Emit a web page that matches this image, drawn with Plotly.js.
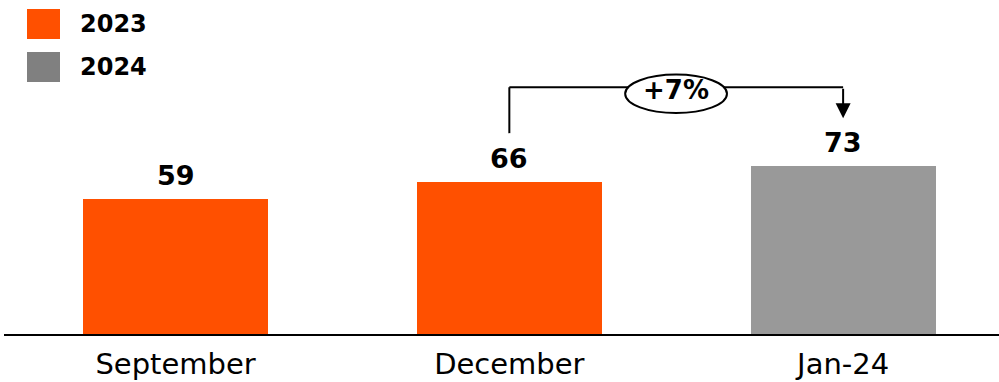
<!DOCTYPE html>
<html>
<head>
<meta charset="utf-8">
<script src="https://cdn.plot.ly/plotly-3.0.1.min.js"></script>
<style>
  html, body { margin: 0; padding: 0; background: #fff; }
  #chart { width: 999px; height: 382px; }
</style>
</head>
<body>
<div id="chart"></div>
<script>
// Monthly values, one bar per period
const categories = ['September', 'December', 'Jan-24'];
const values = [59, 66, 73];
const barColors = ['#FF5000', '#FF5000', '#999999'];

// Legend entries (drawn manually as swatches + labels)
const legendLabels = ['2023', '2024'];
const legendColors = ['#FF5000', '#808080'];

// Change callout between December and Jan-24
const changeLabel = '+7%';

const FONT = 'DejaVu Sans, sans-serif';

const trace = {
  type: 'bar',
  x: [0, 1, 2],
  y: values,
  width: 0.554,
  marker: { color: barColors, line: { width: 0 } },
  hoverinfo: 'skip',
  showlegend: false
};

const annotations = values.map((v, i) => ({
  x: i, y: v, xref: 'x', yref: 'y',
  text: '<b>' + v + '</b>',
  showarrow: false,
  yanchor: 'bottom', yshift: 6,
  font: { family: FONT, size: 27, color: '#000' }
}));

// legend labels
legendLabels.forEach((t, i) => {
  annotations.push({
    xref: 'paper', yref: 'paper', x: 74 / 995, y: 1 - (24 + i * 43) / 334,
    xanchor: 'left', yanchor: 'middle', showarrow: false,
    text: '<b>' + t + '</b>',
    font: { family: FONT, size: 24, color: '#000' }
  });
});

// bracket geometry (data coords)
const yBracket = 107.5;
const yStart = values[1] + 21.5;
const yArrowTip = values[2] + 21;

// arrow down onto the Jan-24 label
annotations.push({
  x: 2, y: yArrowTip, ax: 2, ay: yBracket, xref: 'x', yref: 'y', axref: 'x', ayref: 'y',
  text: '', showarrow: true, arrowhead: 2, arrowsize: 1.5, arrowwidth: 2, arrowcolor: '#000'
});

// change label inside the ellipse
annotations.push({
  x: 1.5, y: yBracket - 1, xref: 'x', yref: 'y',
  text: '<b>' + changeLabel + '</b>', showarrow: false,
  font: { family: FONT, size: 26, color: '#000' }
});

const shapes = [
  // left leg and horizontal run of the bracket
  { type: 'line', xref: 'x', yref: 'y', x0: 1, x1: 1, y0: yStart, y1: yBracket, line: { color: '#000', width: 2 } },
  { type: 'line', xref: 'x', yref: 'y', x0: 1, x1: 2, y0: yBracket, y1: yBracket, line: { color: '#000', width: 2 } },
  // ellipse around the change label
  { type: 'circle', xref: 'x', yref: 'y', x0: 1.347, x1: 1.652, y0: yBracket - 11.2, y1: yBracket + 5.5,
    line: { color: '#000', width: 2 }, fillcolor: '#fff' }
];

// legend swatches
legendColors.forEach((c, i) => {
  shapes.push({
    type: 'rect', xref: 'paper', yref: 'paper',
    x0: 23 / 995, x1: 56 / 995,
    y0: 1 - (39 + i * 43) / 334, y1: 1 - (9 + i * 43) / 334,
    fillcolor: c, line: { width: 0 }
  });
});

const layout = {
  width: 999, height: 382,
  margin: { l: 4, r: 0, t: 0, b: 48 },
  paper_bgcolor: '#fff', plot_bgcolor: '#fff',
  xaxis: {
    range: [-0.514, 2.467],
    tickvals: [0, 1, 2], ticktext: categories,
    showgrid: false, zeroline: false,
    showline: true, linecolor: '#000', linewidth: 2,
    ticks: '', ticklen: 0, ticklabelstandoff: 3,
    tickfont: { family: FONT, size: 29, color: '#000' },
    fixedrange: true
  },
  yaxis: {
    range: [0, 145.5], visible: false, showgrid: false, zeroline: false, fixedrange: true
  },
  shapes: shapes,
  annotations: annotations,
  showlegend: false,
  bargap: 0
};

Plotly.newPlot('chart', [trace], layout, { displayModeBar: false, staticPlot: true });
</script>
</body>
</html>
